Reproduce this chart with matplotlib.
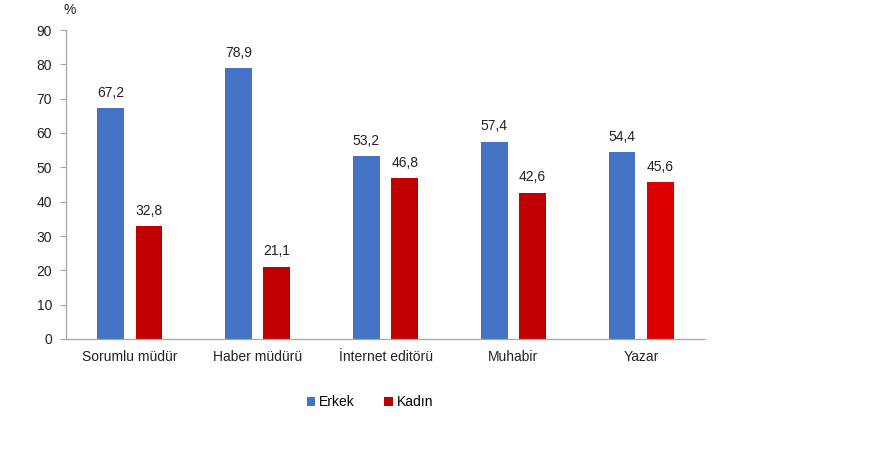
import numpy as np
import matplotlib.pyplot as plt

plt.rcParams['font.family'] = ['Liberation Sans', 'DejaVu Sans']

# data
categories = ['Sorumlu müdür', 'Haber müdürü', 'İnternet editörü', 'Muhabir', 'Yazar']
erkek = [67.2, 78.9, 53.2, 57.4, 54.4]
kadin = [32.8, 21.1, 46.8, 42.6, 45.6]
kadin_colors = ['#C00000', '#C00000', '#C00000', '#C00000', '#DE0000']

fig = plt.figure(figsize=(8.8, 4.5), dpi=100)
ax = fig.add_axes([66 / 880, 1 - 339 / 450, (705 - 66) / 880, (339 - 30) / 450])

x = np.arange(len(categories))
w = 0.21
off = 0.15
b1 = ax.bar(x - off, erkek, w, color='#4472C4', label='Erkek')
b2 = ax.bar(x + off, kadin, w, color=kadin_colors, label='Kadın')

for bars, vals in ((b1, erkek), (b2, kadin)):
    for b, v in zip(bars, vals):
        ax.text(b.get_x() + b.get_width() / 2, v + 2.5, f'{v:.1f}'.replace('.', ','),
                ha='center', va='bottom', fontsize=10, color='#222222')

ax.set_xlim(-0.5, len(categories) - 0.5)
ax.set_ylim(0, 90)
ax.set_yticks(range(0, 91, 10))
ax.set_xticks(x)
ax.set_xticklabels(categories)
ax.tick_params(axis='x', length=0, pad=8, labelsize=10, colors='#222222')
ax.tick_params(axis='y', length=4, width=0.8, color='#A6A6A6', pad=6, labelsize=10, labelcolor='#222222')
for s in ('top', 'right'):
    ax.spines[s].set_visible(False)
for s in ('left', 'bottom'):
    ax.spines[s].set_color('#A6A6A6')
    ax.spines[s].set_linewidth(0.9)

fig.text(70 / 880, 1 - 10 / 450, '%', ha='center', va='center', fontsize=10, color='#222222')

leg = fig.legend(handles=[b1, b2], loc='center', bbox_to_anchor=(370 / 880, 1 - 402 / 450),
                 ncol=2, frameon=False, fontsize=10, handlelength=0.6, handleheight=0.6,
                 handletextpad=0.3, columnspacing=2.1)

fig.savefig('out.png', dpi=100)
